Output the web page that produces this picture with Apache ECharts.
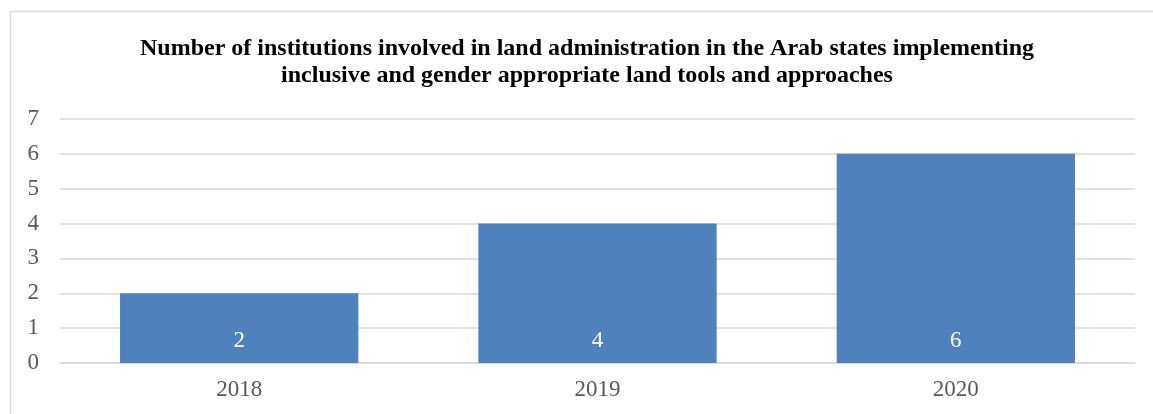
<!DOCTYPE html>
<html lang="en">
<head>
  <meta charset="UTF-8">
  <title>Chart</title>
  <script src="https://cdn.jsdelivr.net/npm/echarts@6/dist/echarts.min.js"></script>
  <style>
    html, body { margin: 0; padding: 0; background: #fff; }
  </style>
</head>
<body>
<div id="main" style="width: 1153px; height: 414px"></div>
<script>
  var years = ['2018', '2019', '2020'];
  var institutions = [2, 4, 6];
  var yTicks = [0, 1, 2, 3, 4, 5, 6, 7];

  var serif = '"Liberation Serif", "Times New Roman", serif';
  var myChart = echarts.init(document.getElementById('main'));

  var option = {
    animation: false,
    textStyle: { fontFamily: serif },
    title: {
      text: 'Number of institutions involved in land administration in the Arab states implementing\ninclusive and gender appropriate land tools and approaches',
      left: 582,
      textAlign: 'center',
      top: 30,
      textStyle: {
        fontFamily: serif,
        fontWeight: 'bold',
        fontSize: 24,
        lineHeight: 27,
        color: '#000'
      }
    },
    graphic: [
      {
        type: 'rect',
        shape: { x: 10.5, y: 11.5, width: 1200, height: 500 },
        style: { fill: 'none', stroke: '#d9d9d9', lineWidth: 1.5 },
        silent: true
      }
    ],
    grid: { left: 60, right: 18, top: 119, bottom: 51 },
    xAxis: {
      type: 'category',
      data: years,
      axisTick: { show: false },
      axisLine: { lineStyle: { color: '#d9d9d9', width: 1.5 } },
      axisLabel: { color: '#595959', fontSize: 23, margin: 15, fontFamily: serif }
    },
    yAxis: {
      type: 'value',
      min: yTicks[0],
      max: yTicks[yTicks.length - 1],
      interval: 1,
      axisLine: { show: false },
      axisTick: { show: false },
      splitLine: { lineStyle: { color: '#d9d9d9', width: 1.5 } },
      axisLabel: { color: '#595959', fontSize: 23, margin: 21, fontFamily: serif }
    },
    series: [
      {
        type: 'bar',
        data: institutions,
        barCategoryGap: '33.5%',
        itemStyle: { color: '#4f81bd' },
        label: {
          show: true,
          position: 'insideBottom',
          distance: 11,
          color: '#fff',
          fontSize: 23,
          fontFamily: serif
        }
      }
    ]
  };
  myChart.setOption(option);
</script>
</body>
</html>
